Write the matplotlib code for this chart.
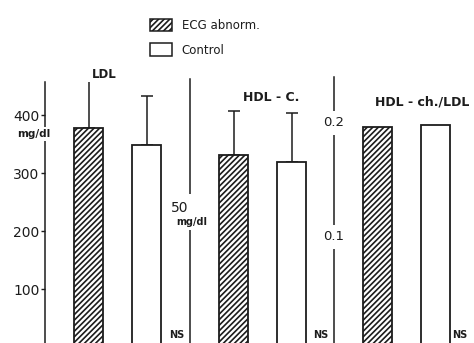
import matplotlib
matplotlib.use("Agg")
import matplotlib.pyplot as plt
from matplotlib.patches import Patch, Rectangle

# data
groups = ["ECG abnorm.", "Control"]
ldl_mean = [378, 348]          # mg/dl
ldl_sd = [138, 85]
hdl_mean = [71.5, 69.0]        # mg/dl
hdl_sd = [16.5, 18.5]
ratio_mean = [0.196, 0.198]    # HDL-ch./LDL
ldl_ticks = [100, 200, 300, 400]

plt.rcParams["font.family"] = ["DejaVu Sans"]
plt.rcParams["hatch.linewidth"] = 1.2
plt.rcParams["hatch.color"] = "#333333"
INK = "#1c1c1c"
W, H = 474, 343

fig = plt.figure(figsize=(W / 100, H / 100), dpi=100)


def axes_px(x0, y_bottom, y_top, width=145):
    """axes placed by pixel coords (y measured from top of image)"""
    return fig.add_axes([x0 / W, (H - y_bottom) / H, width / W, (y_bottom - y_top) / H])


def style(ax):
    for s in ("top", "right", "bottom"):
        ax.spines[s].set_visible(False)
    ax.spines["left"].set_linewidth(1.1)
    ax.spines["left"].set_color(INK)
    ax.set_xticks([])
    ax.set_xlim(-0.75, 1.75)
    ax.patch.set_alpha(0)


def bars(ax, means, sds=None):
    xs = range(len(means))
    ax.bar(xs, means, width=0.5, color=["white", "white"], edgecolor=INK,
           linewidth=1.3, hatch=["//////", None], zorder=2)
    if sds is not None:
        ax.errorbar(xs, means, yerr=[[0] * len(sds), sds], fmt="none",
                    ecolor=INK, elinewidth=1.1, capsize=4.5, capthick=1.1, zorder=1)


def ns(ax, xfrac, dy):
    ax.annotate("NS", xy=(xfrac, 0), xycoords="axes fraction", xytext=(0, dy),
                textcoords="offset pixels", ha="center", va="center",
                fontsize=7, fontweight="bold", color=INK)


def gap(pad):
    return dict(facecolor="white", edgecolor="none", pad=pad)


# panel 1: LDL
ax1 = axes_px(45, 347, 82)
style(ax1)
ax1.set_ylim(0, 457)
bars(ax1, ldl_mean, ldl_sd)
ax1.set_yticks(ldl_ticks)
ax1.tick_params(axis="y", direction="out", length=3, width=1, color=INK,
                labelsize=10, labelcolor=INK, pad=1)
ax1.text(-0.95, 368, "mg/dl", ha="center", va="center", fontsize=7.5,
         fontweight="bold", color=INK, bbox=gap(1.5), zorder=5)
ax1.text(0.28, 470, "LDL", ha="center", va="center", fontsize=8.5,
         fontweight="bold", color=INK)
ns(ax1, 0.91, 12)

# panel 2: HDL-C
ax2 = axes_px(190, 347, 79)
style(ax2)
ax2.set_ylim(0, 100)
ax2.set_yticks([])
bars(ax2, hdl_mean, hdl_sd)
# break in the axis line around the "50 mg/dl" label
ax2.add_patch(Rectangle((-0.80, 43.5), 0.10, 13.5, facecolor="white",
                        edgecolor="none", zorder=4, clip_on=False))
ax2.text(-0.78, 52, "50", ha="right", va="center", fontsize=10, color=INK, zorder=5)
ax2.text(-0.72, 46.5, "mg/dl", ha="center", va="center", fontsize=7,
         fontweight="bold", color=INK, zorder=5)
ax2.text(0.65, 93, "HDL - C.", ha="center", va="center", fontsize=9,
         fontweight="bold", color=INK)
ns(ax2, 0.90, 12)

# panel 3: HDL-ch./LDL ratio
ax3 = axes_px(334, 351, 77)
style(ax3)
ax3.set_ylim(0, 0.24)
ax3.set_yticks([])
bars(ax3, ratio_mean)
for v in (0.1, 0.2):
    ax3.text(-0.75, v, f"{v:.1f}", ha="center", va="center", fontsize=9.5,
             color=INK, bbox=gap(4))
ax3.text(-0.04, 0.218, "HDL - ch./LDL", ha="left", va="center", fontsize=9,
         fontweight="bold", color=INK)
ns(ax3, 0.87, 16)

# legend
handles = [Patch(facecolor="white", edgecolor=INK, hatch="//////", linewidth=1.1),
           Patch(facecolor="white", edgecolor=INK, linewidth=1.1)]
fig.legend(handles, groups, loc="upper left", bbox_to_anchor=(139 / W, 1 - 8 / H),
           frameon=False, handlelength=1.9, handleheight=1.3,
           handletextpad=0.8, labelspacing=0.95, labelcolor=INK,
           prop={"size": 8.5})

fig.savefig("out.png", dpi=100)
